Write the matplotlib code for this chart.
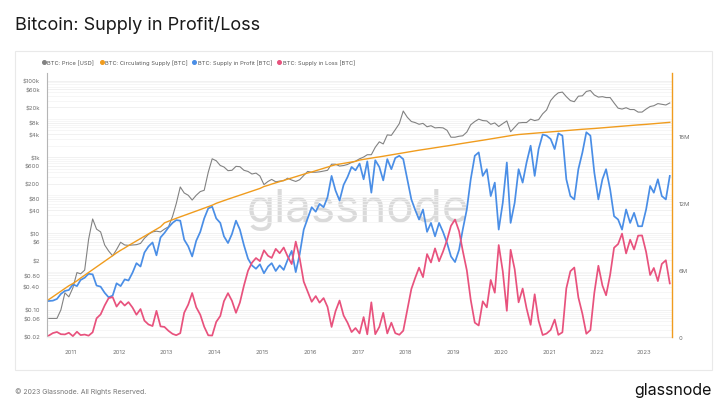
import numpy as np
import pandas as pd
import matplotlib
matplotlib.use('Agg')
import matplotlib.pyplot as plt
import matplotlib.dates as mdates
from matplotlib.lines import Line2D
from matplotlib.patches import Rectangle
from matplotlib.ticker import FixedLocator, FixedFormatter, LogLocator, NullFormatter

# monthly samples, mid-month, Jul 2010 .. Jul 2023
months = pd.date_range('2010-07-01', '2023-07-01', freq='MS') + pd.Timedelta(days=14)

# BTC price [USD]
price = [
    0.06, 0.06, 0.06, 0.10, 0.28, 0.22,
    0.38, 0.95, 0.88, 1.1, 7.0, 24, 13, 11, 5.0, 3.5, 2.6, 3.8,
    5.9, 5.0, 4.9, 5.0, 5.1, 5.5, 7.5, 9.5, 11, 11.5, 11, 13,
    15, 28, 60, 165, 115, 100, 75, 100, 125, 135, 400, 900,
    800, 600, 550, 440, 450, 570, 560, 450, 420, 360, 380, 320,
    190, 230, 260, 225, 235, 240, 280, 250, 230, 255, 330, 420,
    400, 400, 410, 430, 450, 650, 650, 580, 600, 640, 720, 780,
    900, 1000, 1150, 1150, 1800, 2500, 2200, 3800, 3700, 5200, 7500, 16000,
    11000, 8500, 8000, 7200, 7600, 6200, 6600, 5800, 5900, 5800, 5000, 3300,
    3300, 3500, 3600, 4500, 7000, 8500, 9800, 9000, 8800, 7200, 7800, 6300,
    7500, 8800, 4600, 6000, 7800, 8000, 8000, 9800, 9000, 9500, 13500, 17000,
    30000, 40000, 48000, 50000, 38000, 30000, 28000, 39000, 40000, 52000, 55000, 42000,
    37000, 38000, 36000, 36000, 26000, 19000, 18000, 19500, 17500, 17500, 15000, 15000,
    18000, 21000, 22000, 25000, 24000, 23000, 26000,
]

# BTC circulating supply [M BTC]
supply = [
    3.35, 3.60, 3.85, 4.10, 4.35, 4.58,
    4.78, 5.02, 5.27, 5.52, 5.77, 6.02, 6.27, 6.52, 6.77, 7.02, 7.27, 7.52,
    7.75, 7.96, 8.17, 8.38, 8.59, 8.80, 9.01, 9.22, 9.43, 9.64, 9.85, 10.20,
    10.35, 10.48, 10.61, 10.74, 10.87, 11.00, 11.13, 11.26, 11.39, 11.52, 11.65, 11.78,
    11.95, 12.08, 12.20, 12.32, 12.44, 12.56, 12.68, 12.80, 12.92, 13.04, 13.16, 13.28,
    13.45, 13.56, 13.67, 13.78, 13.89, 14.00, 14.11, 14.22, 14.33, 14.44, 14.55, 14.66,
    14.75, 14.86, 14.97, 15.08, 15.19, 15.30, 15.40, 15.46, 15.52, 15.58, 15.64, 15.70,
    15.82, 15.88, 15.94, 16.00, 16.05, 16.10, 16.16, 16.22, 16.28, 16.34, 16.40, 16.46,
    16.53, 16.59, 16.64, 16.70, 16.75, 16.81, 16.86, 16.92, 16.97, 17.03, 17.08, 17.14,
    17.20, 17.26, 17.31, 17.37, 17.42, 17.48, 17.53, 17.59, 17.65, 17.70, 17.76, 17.82,
    17.88, 17.94, 18.00, 18.06, 18.10, 18.13, 18.16, 18.19, 18.22, 18.25, 18.28, 18.31,
    18.33, 18.36, 18.39, 18.42, 18.45, 18.48, 18.51, 18.54, 18.57, 18.59, 18.62, 18.64,
    18.67, 18.70, 18.73, 18.76, 18.78, 18.81, 18.84, 18.87, 18.90, 18.93, 18.96, 18.98,
    19.01, 19.04, 19.07, 19.10, 19.13, 19.16, 19.19,
]

# BTC supply in profit [M BTC]
profit = [
    3.22, 3.25, 3.40, 3.85, 4.12, 4.20,
    4.70, 4.55, 5.10, 5.30, 5.65, 5.60, 4.60, 4.50, 3.95, 3.55, 3.70, 4.80,
    4.55, 5.15, 5.05, 5.75, 6.60, 6.30, 7.55, 8.10, 8.45, 7.30, 8.90, 9.30,
    9.80, 10.20, 10.45, 10.40, 8.70, 8.10, 7.20, 8.60, 9.40, 10.60, 11.50, 11.65,
    10.60, 10.20, 9.00, 8.40, 9.20, 10.40, 9.60, 8.20, 7.00, 6.40, 6.10, 6.50,
    5.70, 6.30, 6.60, 5.90, 6.40, 6.00, 6.90, 7.70, 5.80, 7.40, 9.60, 10.60,
    11.60, 11.20, 11.90, 11.60, 12.50, 14.40, 13.10, 12.20, 13.60, 14.30, 15.20, 14.90,
    15.50, 14.10, 15.70, 12.90, 15.80, 15.20, 14.00, 15.90, 15.00, 16.00, 16.20, 15.90,
    14.10, 12.30, 11.40, 10.50, 11.40, 9.40, 10.20, 9.00, 10.20, 9.40, 8.40, 7.20,
    6.70, 7.80, 9.60, 11.40, 14.10, 16.20, 16.50, 14.40, 15.00, 12.60, 13.80, 9.60,
    12.00, 15.60, 10.20, 12.00, 15.00, 13.80, 15.60, 17.10, 14.40, 16.80, 18.10, 18.00,
    17.70, 16.80, 18.20, 18.00, 14.10, 12.60, 12.30, 15.00, 16.50, 18.30, 18.00, 14.70,
    12.30, 14.10, 15.00, 13.20, 10.80, 10.50, 9.60, 11.40, 10.20, 11.10, 9.90, 9.90,
    11.40, 13.50, 12.90, 14.10, 12.60, 12.30, 14.40,
]

# BTC supply in loss [M BTC]
loss = [
    0.13, 0.35, 0.45, 0.25, 0.23, 0.38,
    0.08, 0.47, 0.17, 0.22, 0.12, 0.42, 1.67, 2.02, 2.82, 3.47, 3.57, 2.72,
    3.20, 2.81, 3.12, 2.63, 1.99, 2.50, 1.46, 1.12, 0.98, 2.34, 0.95, 0.90,
    0.55, 0.28, 0.16, 0.34, 2.17, 2.90, 3.93, 2.66, 1.99, 0.92, 0.15, 0.13,
    1.35, 1.88, 3.20, 3.92, 3.24, 2.16, 3.08, 4.60, 5.92, 6.64, 7.06, 6.78,
    7.75, 7.26, 7.07, 7.88, 7.49, 8.00, 7.21, 6.52, 8.53, 7.04, 4.95, 4.06,
    3.15, 3.66, 3.07, 3.48, 2.69, 0.90, 2.30, 3.26, 1.92, 1.28, 0.44, 0.80,
    0.32, 1.78, 0.24, 3.10, 0.25, 0.90, 2.16, 0.32, 1.28, 0.34, 0.20, 0.56,
    2.43, 4.29, 5.24, 6.20, 5.35, 7.41, 6.66, 7.92, 6.77, 7.63, 8.68, 9.94,
    10.50, 9.46, 7.71, 5.97, 3.32, 1.28, 1.03, 3.19, 2.65, 5.10, 3.96, 8.22,
    5.88, 2.34, 7.80, 6.06, 3.10, 4.33, 2.56, 1.09, 3.82, 1.45, 0.18, 0.31,
    0.63, 1.56, 0.19, 0.42, 4.35, 5.88, 6.21, 3.54, 2.07, 0.29, 0.62, 3.94,
    6.37, 4.60, 3.73, 5.56, 7.98, 8.31, 9.24, 7.47, 8.70, 7.83, 9.06, 9.08,
    7.61, 5.54, 6.17, 5.00, 6.53, 6.86, 4.79,
]

price_ticks = [0.02, 0.06, 0.1, 0.4, 0.8, 2, 6, 10, 40, 80, 200, 600,
               1000, 4000, 8000, 20000, 60000, 100000]
price_labels = ['$0.02', '$0.06', '$0.10', '$0.40', '$0.80', '$2', '$6', '$10',
                '$40', '$80', '$200', '$600', '$1k', '$4k', '$8k', '$20k',
                '$60k', '$100k']
supply_ticks = [0, 6, 12, 18]
supply_labels = ['0', '6M', '12M', '18M']
years = list(range(2011, 2024))

c_price = '#828282'
c_supply = '#f09c1e'
c_profit = '#4a8ee6'
c_loss = '#e8527d'
c_tick = '#707070'

plt.rcParams['font.family'] = ['Inter', 'DejaVu Sans']

W, H = 720, 414
fig = plt.figure(figsize=(7.2, 4.14), dpi=100)
fig.patch.set_facecolor('white')

# card border
fig.patches.append(Rectangle((15 / W, 1 - 371 / H), 697 / W, 319 / H,
                             transform=fig.transFigure, fill=False,
                             edgecolor='#e9e9e9', linewidth=0.8))

fig.text(15 / W, 1 - 25 / H, 'Bitcoin: Supply in Profit/Loss', fontsize=13,
         color='#1a1a1a', va='center', ha='left')

# legend
legend_items = [(43.7, c_price, 'BTC: Price [USD]'),
                (101.7, c_supply, 'BTC: Circulating Supply [BTC]'),
                (194.3, c_profit, 'BTC: Supply in Profit [BTC]'),
                (279.3, c_loss, 'BTC: Supply in Loss [BTC]')]
for xd, col, lab in legend_items:
    fig.add_artist(Line2D([xd / W], [1 - 63.3 / H], marker='o', markersize=2.6,
                          color=col, linestyle='none', transform=fig.transFigure))
    fig.text((xd + 3.5) / W, 1 - 63.3 / H, lab, fontsize=4.1, color='#555555',
             va='center', ha='left')

ax = fig.add_axes([47 / W, 1 - 338 / H, 625 / W, 264 / H])
ax.set_yscale('log')
ax.set_ylim(0.0196, 158000)
ax.set_xlim(pd.Timestamp('2010-07-01'), pd.Timestamp('2023-08-01'))

ax.text(0.497, 0.485, 'glassnode', transform=ax.transAxes, fontsize=33,
        color='#dadada', ha='center', va='center', zorder=0)

ax.yaxis.set_major_locator(FixedLocator(price_ticks))
ax.yaxis.set_major_formatter(FixedFormatter(price_labels))
ax.yaxis.set_minor_locator(LogLocator(base=10, subs=range(1, 10), numticks=20))
ax.yaxis.set_minor_formatter(NullFormatter())
ax.grid(True, which='major', axis='y', color='#ececec', linewidth=0.5)
ax.grid(True, which='minor', axis='y', color='#f3f3f3', linewidth=0.5)
ax.tick_params(axis='y', which='both', length=0, labelsize=4.3,
               labelcolor=c_tick, pad=5)

ax.xaxis.set_major_locator(FixedLocator(
    [mdates.date2num(pd.Timestamp(f'{y}-01-01')) for y in years]))
ax.xaxis.set_major_formatter(FixedFormatter([str(y) for y in years]))
ax.tick_params(axis='x', length=0, labelsize=4.3, labelcolor=c_tick, pad=9)

ax.plot(months, price, color=c_price, linewidth=0.8, zorder=3)

for s in ['top', 'right']:
    ax.spines[s].set_visible(False)
ax.spines['left'].set_color('#b5b5b5')
ax.spines['left'].set_linewidth(0.8)
ax.spines['bottom'].set_color('#ececec')
ax.spines['bottom'].set_linewidth(0.8)

ax2 = ax.twinx()
ax2.set_ylim(0, 23.6)
ax2.plot(months, profit, color=c_profit, linewidth=1.25)
ax2.plot(months, loss, color=c_loss, linewidth=1.25)
ax2.plot(months, supply, color=c_supply, linewidth=1.0)
ax2.yaxis.set_major_locator(FixedLocator(supply_ticks))
ax2.yaxis.set_major_formatter(FixedFormatter(supply_labels))
ax2.tick_params(axis='y', length=0, labelsize=4.3, labelcolor=c_tick, pad=5)
for s in ['top', 'left', 'bottom']:
    ax2.spines[s].set_visible(False)
ax2.spines['right'].set_color(c_supply)
ax2.spines['right'].set_linewidth(1.0)

# footer
fig.text(15 / W, 1 - 392 / H, '\u00a9 2023 Glassnode. All Rights Reserved.',
         fontsize=5, color='#777777', va='center', ha='left')
fig.text(712 / W, 1 - 391 / H, 'glassnode', fontsize=11.5, color='#111111',
         va='center', ha='right')

fig.savefig('out.png', dpi=100, facecolor='white')
